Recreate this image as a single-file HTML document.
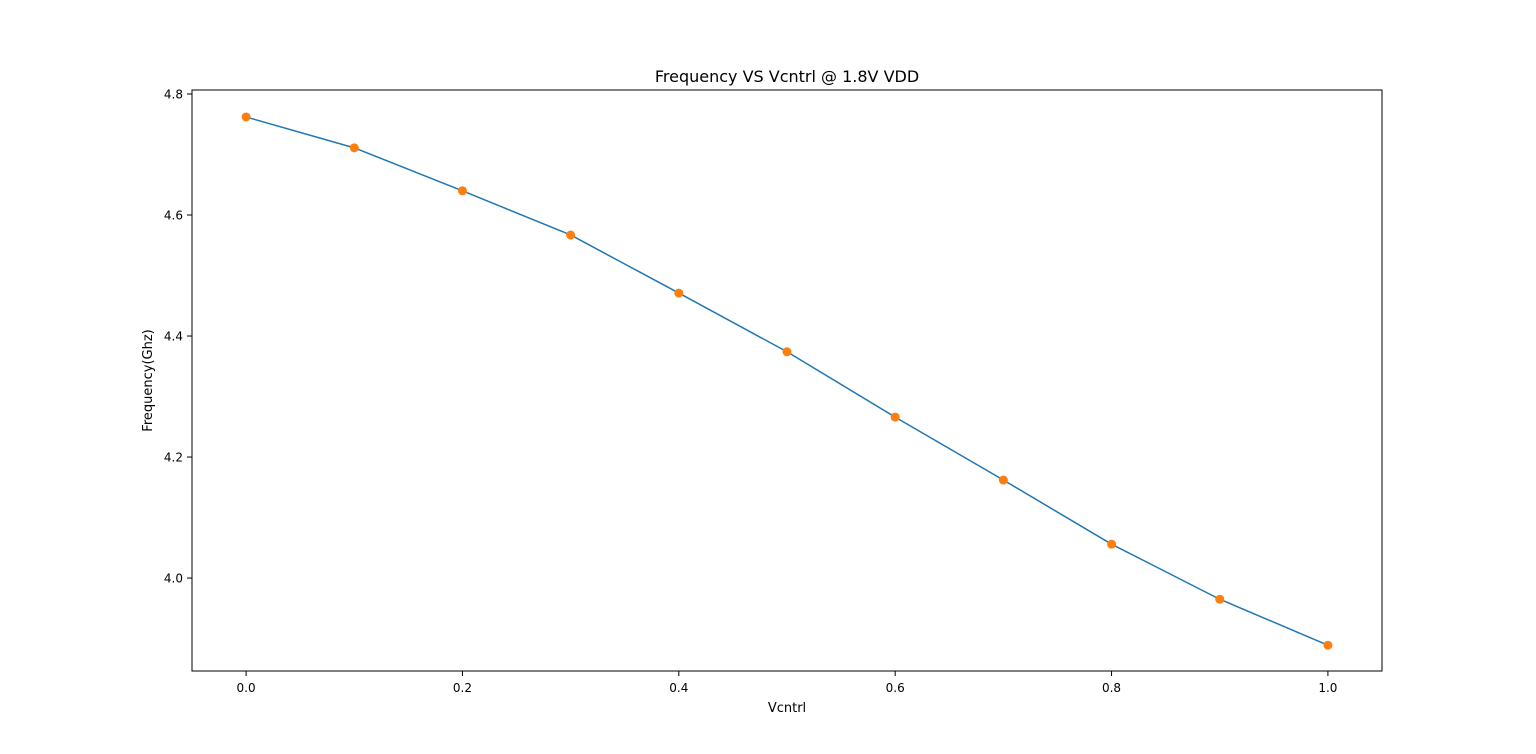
<!DOCTYPE html>
<html><head><meta charset="utf-8"><style>
body{margin:0;background:#fff;}
svg{display:block;font-family:"DejaVu Sans","Liberation Sans",sans-serif;}
</style></head><body>
<svg id="chart" width="1536" height="754">
<rect x="0" y="0" width="1536" height="754" fill="#fff"/>
<g id="plot"></g>
</svg>
<script>
const xValues=[0,0.1,0.2,0.3,0.4,0.5,0.6,0.7,0.8,0.9,1.0];
const freqValues=[4.762,4.711,4.640,4.567,4.471,4.374,4.266,4.162,4.056,3.965,3.889];
const xTicks=[0,0.2,0.4,0.6,0.8,1.0];
const xTickLabels=["0.0","0.2","0.4","0.6","0.8","1.0"];
const yTicks=[4.0,4.2,4.4,4.6,4.8];
const yTickLabels=["4.0","4.2","4.4","4.6","4.8"];

const L=192,R=1382,T=90,B=671;
const xMin=-0.05,xMax=1.05,yMin=3.8464,yMax=4.8066;
const sx=v=>L+(v-xMin)/(xMax-xMin)*(R-L);
const sy=v=>B-(v-yMin)/(yMax-yMin)*(B-T);
const NS="http://www.w3.org/2000/svg";
const g=document.getElementById('plot');
function mk(tag,attrs,parent){const e=document.createElementNS(NS,tag);for(const k in attrs)e.setAttribute(k,attrs[k]);(parent||g).appendChild(e);return e;}

const title=mk('text',{x:(L+R)/2,y:82,'text-anchor':'middle','font-size':16,fill:'#000'});
title.textContent='Frequency VS Vcntrl @ 1.8V VDD';



xTicks.forEach((t,i)=>{
  const x=sx(t);
  const l=mk('line',{x1:x,x2:x,y1:B,y2:B+5,stroke:'#000','stroke-width':1});
  
  
  const tx=mk('text',{x:x,y:B+21,'text-anchor':'middle','font-size':12,fill:'#000'});
  tx.textContent=xTickLabels[i];
  
  
});
yTicks.forEach((t,i)=>{
  const y=sy(t);
  const l=mk('line',{x1:L-5,x2:L,y1:y,y2:y,stroke:'#000','stroke-width':1});
  
  
  const tx=mk('text',{x:L-9,y:y+4.5,'text-anchor':'end','font-size':12,fill:'#000'});
  tx.textContent=yTickLabels[i];
  
  
});

const xt=mk('text',{x:(L+R)/2,y:712,'text-anchor':'middle','font-size':13,fill:'#000'});
xt.textContent='Vcntrl';


const yt=mk('text',{x:0,y:0,'text-anchor':'middle','font-size':13,fill:'#000',transform:`translate(152,${(T+B)/2}) rotate(-90)`});
yt.textContent='Frequency(Ghz)';



const pts=xValues.map((v,i)=>sx(v)+','+sy(freqValues[i])).join(' ');
const line=mk('polyline',{points:pts,fill:'none',stroke:'#1f77b4','stroke-width':1.5});


xValues.forEach((v,i)=>{
  const c=mk('circle',{cx:sx(v),cy:sy(freqValues[i]),r:4.5,fill:'#ff7f0e'});
  
  
});

const frame=mk('rect',{x:L,y:T,width:R-L,height:B-T,fill:'none',stroke:'#000','stroke-width':1});


</script>
</body></html>
